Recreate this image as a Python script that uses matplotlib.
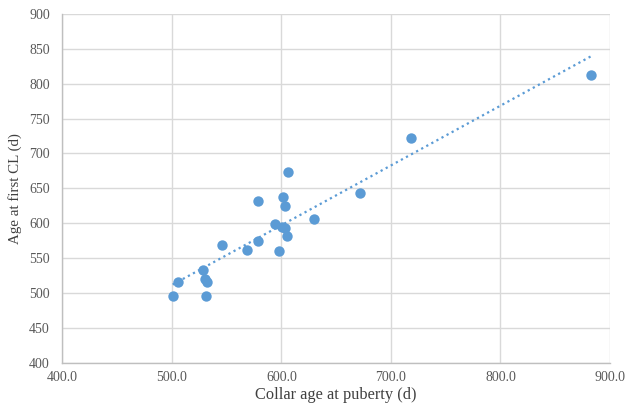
import numpy as np
import matplotlib
matplotlib.use("Agg")
import matplotlib.pyplot as plt

collar_age = [500.7, 505.6, 528.2, 529.8, 531.6, 531.3, 545.6, 568.5, 578.6, 578.6,
              593.8, 597.5, 601.2, 603.3, 600.9, 603.0, 605.4, 606.0, 629.6, 672.0,
              718.0, 882.9]
age_first_cl = [495, 515, 533, 520, 516, 495, 569, 562, 575, 632,
                599, 560, 638, 625, 595, 593, 582, 673, 606, 643,
                722, 813]

xticks = [400, 500, 600, 700, 800, 900]
yticks = [400, 450, 500, 550, 600, 650, 700, 750, 800, 850, 900]

plt.rcParams['font.family'] = ['Liberation Serif', 'DejaVu Serif']

fig = plt.figure(figsize=(6.26, 4.05), dpi=100)
ax = fig.add_axes([0.0997, 0.1046, 0.8747, 0.8608])

blue = '#5B9BD5'
ax.scatter(collar_age, age_first_cl, s=56, color=blue, zorder=3, linewidths=0)

x = np.array(collar_age)
y = np.array(age_first_cl)
m, b = np.polyfit(x, y, 1)
xl = np.array([x.min(), x.max()])
ax.plot(xl, m * xl + b, linestyle=(0, (1, 1.6)), color=blue, linewidth=1.6, zorder=2)

ax.set_xlim(400, 900)
ax.set_ylim(400, 900)
ax.set_xticks(xticks)
ax.set_yticks(yticks)
ax.set_xticklabels([f"{v:.1f}" for v in xticks])
ax.set_yticklabels([str(v) for v in yticks])
ax.grid(True, color='#d9d9d9', linewidth=1.0)
ax.set_axisbelow(True)
for s in ['top', 'right']:
    ax.spines[s].set_visible(False)
for s in ['left', 'bottom']:
    ax.spines[s].set_color('#bfbfbf')
    ax.spines[s].set_linewidth(1.0)
ax.tick_params(axis='y', length=0, labelsize=10, colors='#595959', pad=9)
ax.tick_params(axis='x', length=0, labelsize=10, colors='#595959', pad=6)
ax.set_xlabel('Collar age at puberty (d)', fontsize=11.8, color='#404040', labelpad=2)
ax.set_ylabel('Age at first CL (d)', fontsize=10.8, color='#404040', labelpad=5)

fig.savefig('out.png', dpi=100)
